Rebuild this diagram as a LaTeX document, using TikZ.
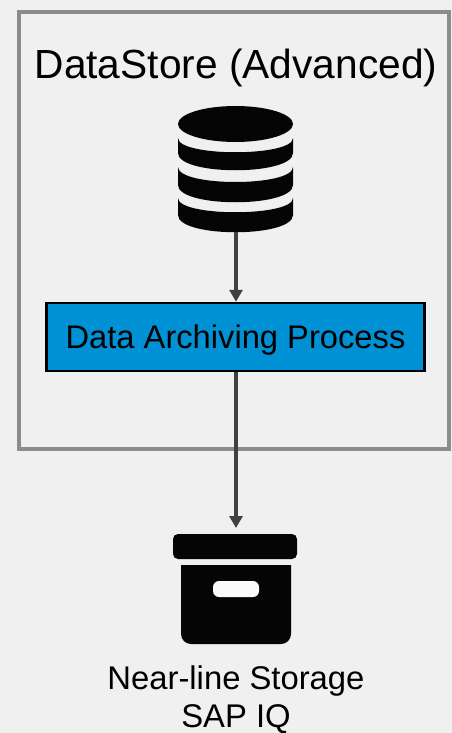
\documentclass[tikz,border=0pt]{standalone}
\usepackage{fontspec}
\setmainfont{Liberation Sans}
\usetikzlibrary{arrows.meta}
\definecolor{bgc}{HTML}{F0F0F0}
\definecolor{framec}{HTML}{8C8C8C}
\definecolor{bluec}{HTML}{0090D4}
\definecolor{arrowc}{HTML}{404040}
\definecolor{iconc}{HTML}{050505}
\tikzset{
  px/.style={x=1pt,y=-1pt},
  frameline/.style={draw=framec,line width=4.5pt},
  processbox/.style={draw=black,fill=bluec,line width=2.5pt,minimum width=378pt,minimum height=68pt,inner sep=0pt,text depth=0pt,font=\fontsize{32.7}{38}\selectfont},
  titletext/.style={inner sep=0pt,font=\fontsize{40.7}{46}\selectfont},
  captiontext/.style={inner sep=0pt,align=center,font=\fontsize{32.8}{38}\selectfont},
  flow/.style={draw=arrowc,line width=3.5pt,-{Triangle[length=12pt,width=13pt]}},
  iconfill/.style={fill=iconc,draw=none}
}
\begin{document}
\begin{tikzpicture}[px]
\useasboundingbox[fill=bgc] (0,0) rectangle (452,733);
\draw[frameline] (19,12) rectangle (449,449);
\node[titletext] (title) at (236,68) {DataStore (Advanced)};
% database icon
\fill[iconfill] (178,198) .. controls (178,217) and (293,217) .. (293,198) -- (293,215) .. controls (293,238) and (178,238) .. (178,215) -- cycle;
\fill[iconfill] (178,167) .. controls (178,187) and (293,187) .. (293,167) -- (293,185) .. controls (293,208) and (178,208) .. (178,185) -- cycle;
\fill[iconfill] (178,138) .. controls (178,157) and (293,157) .. (293,138) -- (293,153) .. controls (293,176) and (178,176) .. (178,153) -- cycle;
\fill[iconfill] (235.5,124) ellipse[x radius=57.5pt,y radius=18pt];
\coordinate (dbbottom) at (236,232);
\node[processbox] (process) at (235.5,337) {Data Archiving Process};
% archive box icon
\fill[iconfill,rounded corners=5pt] (173,559) -- (173,534) -- (297,534) -- (297,559) -- cycle;
\fill[iconfill] (181,565) -- (181,634) arc[start angle=180,end angle=270,radius=10pt] -- (281,644) arc[start angle=270,end angle=360,radius=10pt] -- (291,565) -- cycle;
\fill[white!70!bgc,rounded corners=6pt] (213,581) rectangle (259,597);
\coordinate (boxtop) at (236,528);
\draw[flow] (dbbottom) -- (process.north -| dbbottom);
\draw[flow] (process.south -| boxtop) -- (boxtop);
\node[captiontext] (caption) at (236,699.5) {Near-line Storage\\SAP IQ};
\end{tikzpicture}
\end{document}
